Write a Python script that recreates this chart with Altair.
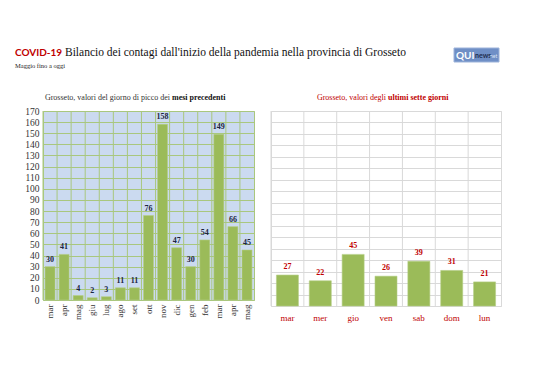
import altair as alt
import pandas as pd

# ---- data ----
months = ["mar 2020", "apr 2020", "mag 2020", "giu 2020", "lug 2020", "ago 2020",
          "set 2020", "ott 2020", "nov 2020", "dic 2020", "gen 2021", "feb 2021",
          "mar 2021", "apr 2021", "mag 2021"]
peaks = [30, 41, 4, 2, 3, 11, 11, 76, 158, 47, 30, 54, 149, 66, 45]

days = ["mar", "mer", "gio", "ven", "sab", "dom", "lun"]
week = [27, 22, 45, 26, 39, 31, 21]

title_red = "COVID-19"
title_rest = "Bilancio dei contagi dall'inizio della pandemia nella provincia di Grosseto"
subtitle = "Maggio fino a oggi"
left_sub_a = "Grosseto, valori del giorno di picco dei"
left_sub_b = "mesi precedenti"
right_sub_a = "Grosseto, valori degli"
right_sub_b = "ultimi sette giorni"
yticks = list(range(0, 171, 10))

SERIF = "Liberation Serif"
SANS = "Lato"
BAR = "#9BBB59"
BAR_EDGE = "#B5CE86"
GRID_L = "#A9C77E"
BG_L = "#CBDAF0"
GRID_R = "#D9D9D9"
RED = "#C00000"
NAVY = "#1A2440"

W1, H1 = 211, 189
W2, H2 = 230, 195

dfm = pd.DataFrame({"mese": months, "casi": peaks})
dfw = pd.DataFrame({"giorno": days, "casi": week})


def one(text):
    return pd.DataFrame({"t": [text]})


# ---- left panel ----
axL = alt.Axis(title=None, labelAngle=-90, labelExpr="split(datum.label, ' ')[0]",
               labelFont=SERIF, labelFontSize=9, labelColor="#333333",
               ticks=False, domain=False, grid=False, labelPadding=4)
scL = alt.Scale(paddingInner=0, paddingOuter=0)
yL = alt.Y("casi:Q", scale=alt.Scale(domain=[0, 170], nice=False),
           axis=alt.Axis(title=None, values=yticks, grid=True, gridColor=GRID_L,
                         gridOpacity=1, ticks=False, domain=False, labelFont=SERIF,
                         labelFontSize=9.5, labelColor="#333333", labelPadding=4))

baseL = alt.Chart(dfm)
vgridL = baseL.mark_rule(color=GRID_L, strokeWidth=1).encode(
    x=alt.X("mese:N", sort=months, scale=scL, axis=axL, bandPosition=0),
    y=alt.value(0), y2=alt.value(H1))
barsL = baseL.mark_bar(color=BAR, stroke=BAR_EDGE, strokeWidth=0.6,
                       width=alt.RelativeBandSize(0.71)).encode(
    x=alt.X("mese:N", sort=months, scale=scL, axis=axL), y=yL)
labL = baseL.mark_text(font=SERIF, fontSize=8, fontWeight="bold", color=NAVY,
                       baseline="bottom", dy=-3).encode(
    x=alt.X("mese:N", sort=months, scale=scL, axis=axL), y=yL, text="casi:Q")

t1 = alt.Chart(one(title_red)).mark_text(font=SANS, fontSize=10, fontWeight="bold",
                                         color=RED, align="left", baseline="alphabetic").encode(
    x=alt.value(-28), y=alt.value(-55), text="t:N")
t2 = alt.Chart(one(title_rest)).mark_text(font=SERIF, fontSize=11.5, color="#111111",
                                          align="left", baseline="alphabetic").encode(
    x=alt.value(22), y=alt.value(-55), text="t:N")
t3 = alt.Chart(one(subtitle)).mark_text(font=SERIF, fontSize=6.5, color="#222222",
                                        align="left", baseline="alphabetic").encode(
    x=alt.value(-28), y=alt.value(-43), text="t:N")
logo = alt.Chart(one("")).mark_rect(color="#6F8FC6", stroke="#9DB3DA").encode(
    x=alt.value(411), x2=alt.value(456), y=alt.value(-63), y2=alt.value(-49))
logo1 = alt.Chart(one("QUI")).mark_text(font=SANS, fontSize=10, fontWeight="bold",
                                        color="white", align="left", baseline="alphabetic").encode(
    x=alt.value(413), y=alt.value(-52), text="t:N")
logo2 = alt.Chart(one("news")).mark_text(font=SANS, fontSize=7, fontWeight="bold",
                                         color="#1F2D50", align="left", baseline="alphabetic").encode(
    x=alt.value(432), y=alt.value(-53), text="t:N")
logo3 = alt.Chart(one("net")).mark_text(font=SANS, fontSize=5, color="#DDE6F5",
                                        align="left", baseline="alphabetic").encode(
    x=alt.value(447), y=alt.value(-53), text="t:N")

sLa = alt.Chart(one(left_sub_a)).mark_text(font=SERIF, fontSize=8, color="#333333",
                                           align="right", baseline="middle").encode(
    x=alt.value(127), y=alt.value(-13), text="t:N")
sLb = alt.Chart(one(left_sub_b)).mark_text(font=SERIF, fontSize=8, fontWeight="bold",
                                           color="#111111", align="left", baseline="middle").encode(
    x=alt.value(129), y=alt.value(-13), text="t:N")

left = alt.layer(vgridL, barsL, labL, t1, t2, t3, logo, logo1, logo2, logo3, sLa, sLb).properties(
    width=W1, height=H1, view=alt.ViewBackground(fill=BG_L, stroke=GRID_L))

# ---- right panel ----
axR = alt.Axis(title=None, labelAngle=0, labelFont=SERIF, labelFontSize=9,
               labelColor=RED, ticks=False, domain=False, grid=False, labelPadding=7)
scR = alt.Scale(paddingInner=0, paddingOuter=0)
yR = alt.Y("casi:Q", scale=alt.Scale(domain=[0, 170], nice=False),
           axis=alt.Axis(title=None, values=yticks, grid=True, gridColor=GRID_R,
                         labels=False, ticks=False, domain=False))
baseR = alt.Chart(dfw)
vgridR = baseR.mark_rule(color=GRID_R, strokeWidth=1).encode(
    x=alt.X("giorno:N", sort=days, scale=scR, axis=axR, bandPosition=0),
    y=alt.value(0), y2=alt.value(H2))
barsR = baseR.mark_bar(color=BAR, stroke=BAR_EDGE, strokeWidth=0.6,
                       width=alt.RelativeBandSize(0.67)).encode(
    x=alt.X("giorno:N", sort=days, scale=scR, axis=axR), y=yR)
labR = baseR.mark_text(font=SERIF, fontSize=8, fontWeight="bold", color=RED,
                       baseline="bottom", dy=-4).encode(
    x=alt.X("giorno:N", sort=days, scale=scR, axis=axR), y=yR, text="casi:Q")
sRa = alt.Chart(one(right_sub_a)).mark_text(font=SERIF, fontSize=8, color=RED,
                                            align="right", baseline="middle").encode(
    x=alt.value(115), y=alt.value(-13), text="t:N")
sRb = alt.Chart(one(right_sub_b)).mark_text(font=SERIF, fontSize=8, fontWeight="bold",
                                            color=RED, align="left", baseline="middle").encode(
    x=alt.value(117), y=alt.value(-13), text="t:N")

right = alt.layer(vgridR, barsR, labR, sRa, sRb).properties(
    width=W2, height=H2, view=alt.ViewBackground(fill="white", stroke=GRID_R))

chart = alt.hconcat(left, right, spacing=17, bounds="flush").properties(
    padding={"left": 6, "top": 38, "right": 5, "bottom": 5})

chart.save("out.html", embed_options={"renderer": "svg", "actions": False})
